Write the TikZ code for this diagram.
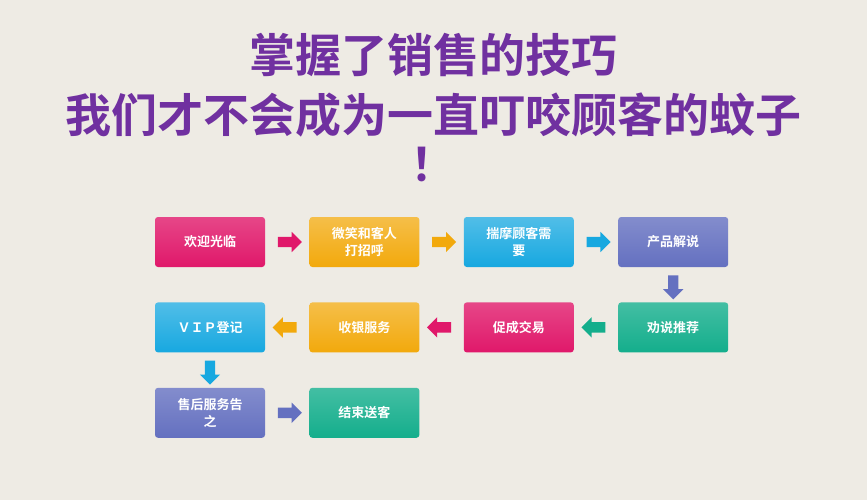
\documentclass[tikz,border=0pt]{standalone}
\usepackage{fontspec}
\newfontfamily\cjk{Noto Sans CJK SC Bold}
\usetikzlibrary{positioning, shapes.arrows, calc}
\definecolor{bg}{HTML}{EEEBE4}
\definecolor{ttl}{HTML}{7030A0}
\definecolor{cmag}{HTML}{E0186A}
\definecolor{corg}{HTML}{F2A90C}
\definecolor{ccya}{HTML}{17A8E0}
\definecolor{cblu}{HTML}{6470C0}
\definecolor{ctea}{HTML}{14AE8C}
\tikzstyle{block} = [rectangle, rounded corners=3pt, minimum width=110pt, minimum height=50pt, text width=100pt, align=center, text=white, font=\cjk\fontsize{13}{17}\selectfont, inner sep=2pt]
\tikzstyle{bmag} = [block, top color=cmag!80, bottom color=cmag]
\tikzstyle{borg} = [block, top color=corg!75, bottom color=corg]
\tikzstyle{bcya} = [block, top color=ccya!75, bottom color=ccya]
\tikzstyle{bblu} = [block, top color=cblu!80, bottom color=cblu]
\tikzstyle{btea} = [block, top color=ctea!80, bottom color=ctea]
\tikzstyle{arr} = [single arrow, text height=10pt, text depth=0pt, text width=8pt, minimum height=24pt, minimum width=20pt, single arrow head extend=5pt, inner sep=0pt]
\tikzstyle{title} = [text=ttl, font=\cjk\fontsize{46}{50}\selectfont]
\begin{document}
\begin{tikzpicture}[x=1pt, y=-1pt, node distance=44pt and 35pt]
\fill[bg] (0,0) rectangle (867,500);

\node [title] (t1) at (433.5,55) {掌握了销售的技巧};
\node [title] (t2) at (433.5,115) {我们才不会成为一直叮咬顾客的蚊子};
\node [title] (t3) at (433.5,165) {！};

\node [bmag] (A) at (210,242) {欢迎光临};
\node [borg, right=44pt of A] (B) {微笑和客人\\打招呼};
\node [bcya, right=44pt of B] (C) {揣摩顾客需\\要};
\node [bblu, right=44pt of C] (D) {产品解说};
\node [btea, below=35pt of D] (E) {劝说推荐};
\node [bmag, left=44pt of E] (F) {促成交易};
\node [borg, left=44pt of F] (G) {收银服务};
\node [bcya, left=44pt of G] (H) {ＶＩＰ登记};
\node [bblu, below=35pt of H] (I) {售后服务告\\之};
\node [btea, right=44pt of I] (J) {结束送客};

\node [arr, fill=cmag] (aAB) at ($(A)!0.5!(B)$) {};
\node [arr, fill=corg] (aBC) at ($(B)!0.5!(C)$) {};
\node [arr, fill=ccya] (aCD) at ($(C)!0.5!(D)$) {};
\node [arr, fill=cblu, rotate=-90] (aDE) at ($(D)!0.5!(E)$) {};
\node [arr, fill=ctea, rotate=180] (aEF) at ($(E)!0.5!(F)$) {};
\node [arr, fill=cmag, rotate=180] (aFG) at ($(F)!0.5!(G)$) {};
\node [arr, fill=corg, rotate=180] (aGH) at ($(G)!0.5!(H)$) {};
\node [arr, fill=ccya, rotate=-90] (aHI) at ($(H)!0.5!(I)$) {};
\node [arr, fill=cblu] (aIJ) at ($(I)!0.5!(J)$) {};

\end{tikzpicture}
\end{document}
